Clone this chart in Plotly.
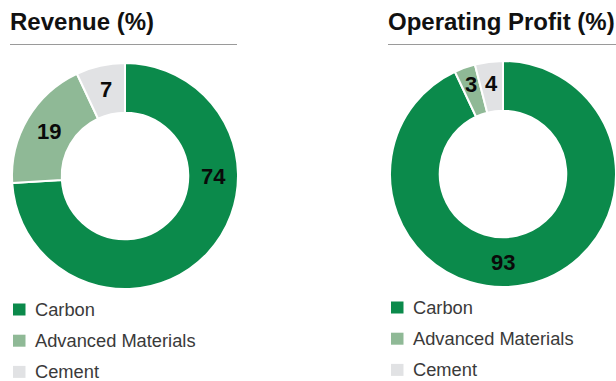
import math
import plotly.graph_objects as go

W, H = 616, 381

# ---- data ----
segments = ["Carbon", "Advanced Materials", "Cement"]
revenue = [74, 19, 7]
operating_profit = [93, 3, 4]
chart_titles = ["Revenue (%)", "Operating Profit (%)"]
colors = ["#0B8A4B", "#8FB996", "#E1E2E4"]

HOLE = 0.56
FONT = "Liberation Sans, Arial, sans-serif"

# ---- layout (pixel positions measured from top-left) ----
boxes = [(12, 63, 238, 289), (390, 61, 616, 287)]
title_x = [10, 388]
rule_span = [(10, 237), (388, 616)]
legend_sq_x = [13, 391]
legend_y0 = [309.5, 307.5]
legend_step = 31.2
# the large segment's label sits at a fixed angle (degrees clockwise from 12 o'clock)
big_label_angle = {(0, 0): 90, (1, 0): 180}
# small segments' labels sit a little further out in the ring
radial_nudge = {(1, 1): 7, (1, 2): 3}

fig = go.Figure()
annotations = []
shapes = []

for i, vals in enumerate([revenue, operating_profit]):
    x0, y0, x1, y1 = boxes[i]
    fig.add_trace(go.Pie(
        labels=segments, values=vals, hole=HOLE, sort=False,
        direction="clockwise", rotation=0,
        marker=dict(colors=colors, line=dict(color="white", width=2)),
        textinfo="none", hoverinfo="label+value", showlegend=False,
        domain=dict(x=[x0 / W, x1 / W], y=[1 - y1 / H, 1 - y0 / H]),
    ))
    cx, cy = (x0 + x1) / 2, (y0 + y1) / 2
    R = min(x1 - x0, y1 - y0) / 2
    rm = R * (1 + HOLE) / 2
    total = sum(vals)
    cum = 0
    for k, v in enumerate(vals):
        th = 2 * math.pi * (cum + v / 2) / total
        cum += v
        if (i, k) in big_label_angle:
            th = math.radians(big_label_angle[(i, k)])
        r = rm + radial_nudge.get((i, k), 0)
        px = cx + r * math.sin(th)
        py = cy - r * math.cos(th)
        annotations.append(dict(
            x=px / W, y=1 - py / H, xref="paper", yref="paper",
            text=f"<b>{v}</b>", showarrow=False,
            font=dict(family=FONT, size=22, color="#0a0a0a"),
            xanchor="center", yanchor="middle",
        ))
    annotations.append(dict(
        x=title_x[i] / W, y=1 - 22 / H, xref="paper", yref="paper",
        text=f"<b>{chart_titles[i]}</b>", showarrow=False,
        font=dict(family=FONT, size=24, color="#111111"),
        xanchor="left", yanchor="middle", xshift=-2,
    ))
    a, b = rule_span[i]
    shapes.append(dict(type="line", xref="paper", yref="paper",
                       x0=a / W, x1=b / W, y0=1 - 44.5 / H, y1=1 - 44.5 / H,
                       line=dict(color="#9a9a9a", width=1)))
    for k, lab in enumerate(segments):
        yc = legend_y0[i] + k * legend_step
        sx = legend_sq_x[i]
        shapes.append(dict(type="rect", xref="paper", yref="paper",
                           x0=sx / W, x1=(sx + 12.5) / W,
                           y0=1 - (yc + 6) / H, y1=1 - (yc - 6) / H,
                           fillcolor=colors[k], line=dict(width=0)))
        annotations.append(dict(
            x=(sx + 20) / W, y=1 - yc / H, xref="paper", yref="paper",
            text=lab, showarrow=False,
            font=dict(family=FONT, size=18.3, color="#3a3a3a"),
            xanchor="left", yanchor="middle",
        ))

fig.update_layout(
    width=W, height=H, margin=dict(l=0, r=0, t=0, b=0),
    paper_bgcolor="white", plot_bgcolor="white",
    annotations=annotations, shapes=shapes,
)

fig.write_html("out.html")
